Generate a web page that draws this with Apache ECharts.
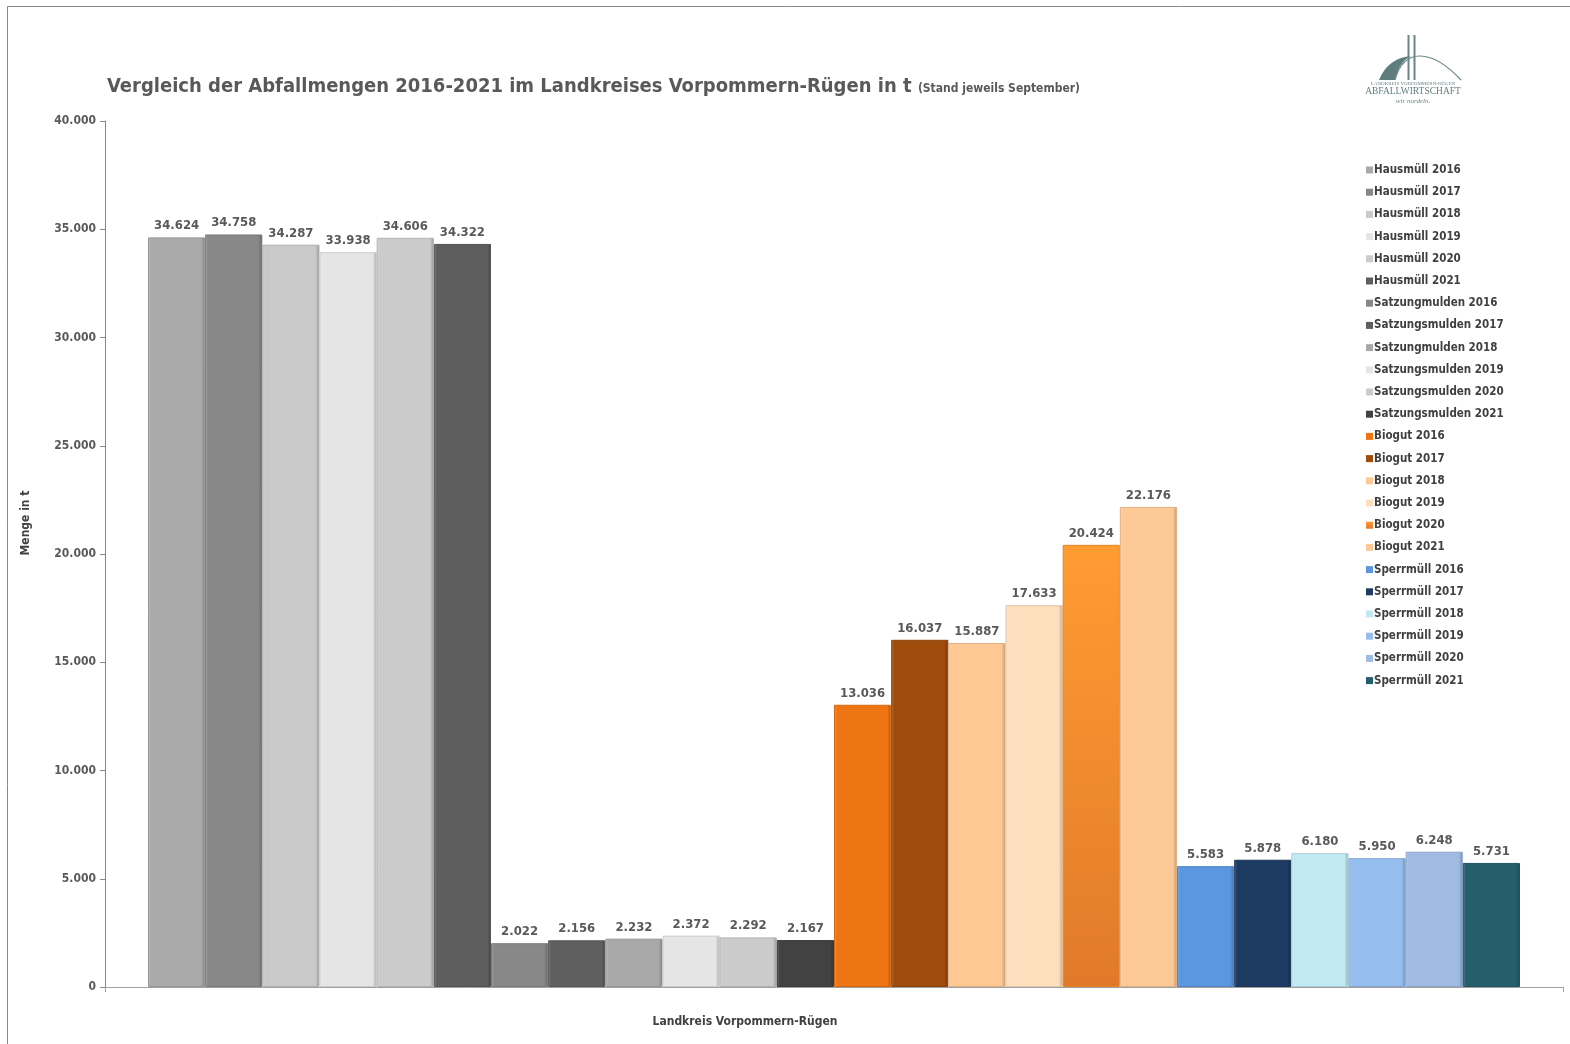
<!DOCTYPE html>
<html>
<head>
<meta charset="utf-8">
<script src="https://cdn.jsdelivr.net/npm/echarts@6/dist/echarts.min.js"></script>
<style>html,body{margin:0;padding:0;background:#fff}#c{width:1570px;height:1044px}</style>
</head>
<body>
<div id="c"></div>
<script>
const categories = ['Landkreis Vorpommern-Rügen'];
const seriesNames = [
  'Hausmüll 2016','Hausmüll 2017','Hausmüll 2018','Hausmüll 2019','Hausmüll 2020','Hausmüll 2021',
  'Satzungmulden 2016','Satzungsmulden 2017','Satzungmulden 2018','Satzungsmulden 2019','Satzungsmulden 2020','Satzungsmulden 2021',
  'Biogut 2016','Biogut 2017','Biogut 2018','Biogut 2019','Biogut 2020','Biogut 2021',
  'Sperrmüll 2016','Sperrmüll 2017','Sperrmüll 2018','Sperrmüll 2019','Sperrmüll 2020','Sperrmüll 2021'
];
const hausmuell = [34624, 34758, 34287, 33938, 34606, 34322];
const satzungsmulden = [2022, 2156, 2232, 2372, 2292, 2167];
const biogut = [13036, 16037, 15887, 17633, 20424, 22176];
const sperrmuell = [5583, 5878, 6180, 5950, 6248, 5731];
const yTicks = [0, 5000, 10000, 15000, 20000, 25000, 30000, 35000, 40000];

const colors = [
  '#aaaaaa','#888888','#c9c9c9','#e5e5e5','#cbcbcb','#5e5e5e',
  '#888888','#5f5f5f','#a9a9a9','#e5e5e5','#cbcbcb','#424242',
  '#ef7512','#9f4b0c','#fec894','#fddfbe','#fe9a30','#fdc996',
  '#5b97e0','#1d3a62','#c0e9f3','#95bdee','#9fbbe1','#255e6d'
];
const values = hausmuell.concat(satzungsmulden, biogut, sperrmuell);
const fmt = v => String(Math.round(v)).replace(/\B(?=(\d{3})+(?!\d))/g, '.');

function shade(hex, f) {
  const n = parseInt(hex.slice(1), 16);
  let r = n >> 16, g = (n >> 8) & 255, b = n & 255;
  if (f < 0) { r *= (1 + f); g *= (1 + f); b *= (1 + f); }
  else { r += (255 - r) * f; g += (255 - g) * f; b += (255 - b) * f; }
  return 'rgb(' + Math.round(r) + ',' + Math.round(g) + ',' + Math.round(b) + ')';
}

function quad(p0, p1, p2, n) {
  const pts = [];
  for (let i = 0; i <= n; i++) {
    const t = i / n, u = 1 - t;
    pts.push([u * u * p0[0] + 2 * u * t * p1[0] + t * t * p2[0], u * u * p0[1] + 2 * u * t * p1[1] + t * t * p2[1]]);
  }
  return pts;
}
const logoWedge = quad([1379, 80], [1388, 58], [1411, 56], 12).concat(quad([1411, 56], [1399, 62], [1395, 80], 12));

const FONT = "'DejaVu Sans Condensed', 'DejaVu Sans', sans-serif";

const series = seriesNames.map((name, i) => {
  const c = colors[i];
  let fill;
  if (name === 'Biogut 2020') {
    fill = new echarts.graphic.LinearGradient(0, 0, 0, 1, [
      { offset: 0, color: '#ff9c32' }, { offset: 1, color: '#e07a2a' }
    ]);
  } else {
    fill = new echarts.graphic.LinearGradient(0, 0, 1, 0, [
      { offset: 0, color: shade(c, 0.25) }, { offset: 0.05, color: c },
      { offset: 0.93, color: c }, { offset: 1, color: shade(c, -0.25) }
    ]);
  }
  return {
    name: name,
    type: 'bar',
    barGap: '0%',
    barCategoryGap: '5.9%',
    data: [values[i]],
    itemStyle: { color: fill, borderColor: shade(c, -0.12), borderWidth: 1 },
    label: {
      show: true, position: 'top', distance: 5,
      formatter: p => fmt(p.value),
      color: '#595959', fontFamily: FONT, fontSize: 13, fontWeight: 'bold'
    }
  };
});

const chart = echarts.init(document.getElementById('c'), null, { renderer: 'canvas' });
chart.setOption({
  backgroundColor: '#ffffff',
  animation: false,
  color: colors,
  title: {
    text: 'Vergleich der Abfallmengen 2016-2021 im Landkreises Vorpommern-Rügen in t {s|(Stand jeweils September)}',
    left: 107, top: 77, padding: 0,
    textStyle: {
      fontFamily: FONT, fontSize: 20, fontWeight: 'bold', color: '#595959',
      rich: { s: { fontFamily: FONT, fontSize: 12, fontWeight: 'bold', color: '#595959', padding: [4, 0, 0, 0] } }
    }
  },
  legend: {
    orient: 'vertical', left: 1366, top: 163, padding: 0,
    itemWidth: 7, itemHeight: 7, itemGap: 8.2,
    icon: 'rect',
    itemStyle: { borderWidth: 0 },
    textStyle: { fontFamily: FONT, fontSize: 11.5, fontWeight: 'bold', color: '#404040', padding: [0, 0, 0, -4], lineHeight: 14 },
    data: seriesNames
  },
  grid: { left: 105, right: 7, top: 121, bottom: 57, containLabel: false },
  xAxis: {
    type: 'category', data: categories,
    axisLine: { lineStyle: { color: '#a0a0a0', width: 1 } },
    axisTick: { show: true, alignWithLabel: false, length: 5, lineStyle: { color: '#a0a0a0' } },
    axisLabel: { margin: 29, color: '#404040', fontFamily: FONT, fontSize: 12, fontWeight: 'bold', padding: [0, 178, 0, 0] }
  },
  yAxis: {
    type: 'value', min: 0, max: 40000, interval: 5000,
    axisLine: { show: true, lineStyle: { color: '#888888' } },
    axisTick: { show: true, length: 5, lineStyle: { color: '#888888' } },
    splitLine: { show: false },
    axisLabel: { formatter: v => fmt(v), color: '#595959', fontFamily: FONT, fontSize: 12, fontWeight: 'bold', margin: 9 }
  },
  series: series,
  graphic: [
    { type: 'line', shape: { x1: 7.5, y1: 6.5, x2: 1570, y2: 6.5 }, style: { stroke: '#888888', lineWidth: 1 }, silent: true },
    { type: 'line', shape: { x1: 7.5, y1: 6.5, x2: 7.5, y2: 1044 }, style: { stroke: '#888888', lineWidth: 1 }, silent: true },
    { type: 'text', x: 26, y: 523, rotation: Math.PI / 2, style: { text: 'Menge in t', font: "bold 12px 'DejaVu Sans Condensed', 'DejaVu Sans', sans-serif", fill: '#404040', align: 'center', verticalAlign: 'middle' } },
    { type: 'line', shape: { x1: 1408.5, y1: 35, x2: 1408.5, y2: 80 }, style: { stroke: '#6b8585', lineWidth: 2 } },
    { type: 'line', shape: { x1: 1414.5, y1: 35, x2: 1414.5, y2: 80 }, style: { stroke: '#6b8585', lineWidth: 2 } },
    { type: 'polygon', shape: { points: logoWedge }, style: { fill: '#5f7d7d' } },
    { type: 'bezierCurve', shape: { x1: 1395, y1: 80, x2: 1461, y2: 80, cpx1: 1404, cpy1: 47, cpx2: 1432, cpy2: 49 }, style: { stroke: '#6b8585', lineWidth: 1.2, fill: 'none' } },
    { type: 'text', x: 1413, y: 84, style: { text: 'LANDKREIS VORPOMMERN-RÜGEN', font: '5px serif', fill: '#6b8585', align: 'center', verticalAlign: 'middle' } },
    { type: 'text', x: 1413, y: 91, style: { text: 'ABFALLWIRTSCHAFT', font: '9.5px "Liberation Serif", serif', fill: '#5f7d7d', align: 'center', verticalAlign: 'middle' } },
    { type: 'text', x: 1413, y: 101, style: { text: 'wir nordeln.', font: 'italic 7px "Liberation Serif", serif', fill: '#6b8585', align: 'center', verticalAlign: 'middle' } }
  ]
});
</script>
</body>
</html>
